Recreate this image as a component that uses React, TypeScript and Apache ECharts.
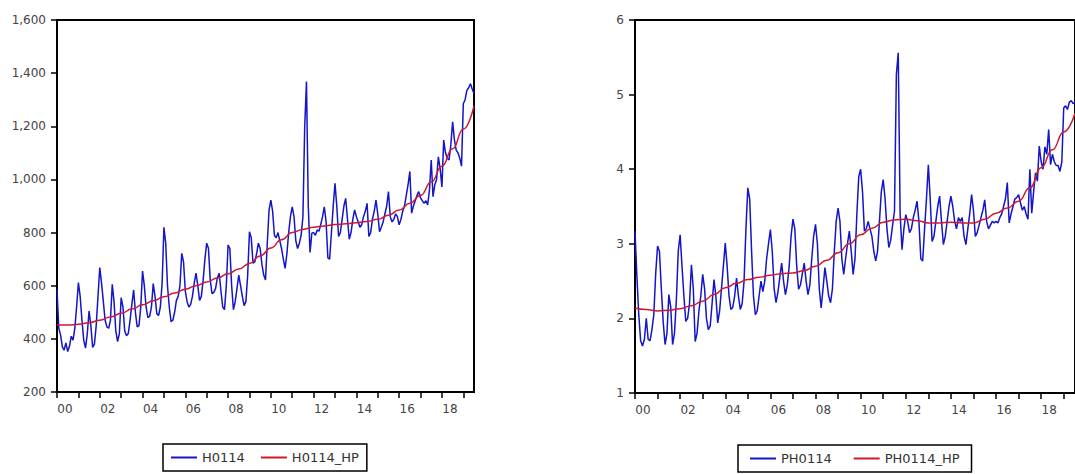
import React, { useEffect, useRef } from "react";
import * as echarts from "echarts";

// ---- categories: monthly observations 2000M01 .. 2019M07 ----
const FIRST_YEAR = 2000;
const N_OBS = 235;
const MONTHS: string[] = [];
for (let y = FIRST_YEAR; MONTHS.length < N_OBS; y++) {
  for (let m = 1; m <= 12 && MONTHS.length < N_OBS; m++) {
    MONTHS.push(`${y}M${String(m).padStart(2, "0")}`);
  }
}

// ---- H0114 (left panel), read month by month ----
const H_2000 = [585, 440, 415, 370, 358, 385, 352, 372, 410, 395, 440, 520];
const H_2001 = [612, 560, 470, 395, 365, 420, 505, 450, 368, 380, 450, 560];
const H_2002 = [668, 610, 540, 470, 445, 440, 470, 605, 540, 430, 390, 420];
const H_2003 = [555, 520, 430, 412, 420, 470, 530, 584, 500, 445, 450, 520];
const H_2004 = [655, 600, 520, 480, 485, 520, 608, 560, 495, 488, 520, 610];
const H_2005 = [820, 760, 600, 520, 465, 470, 500, 545, 560, 600, 722, 690];
const H_2006 = [580, 540, 520, 530, 560, 610, 647, 600, 545, 560, 620, 700];
const H_2007 = [760, 740, 620, 570, 575, 590, 630, 647, 580, 520, 510, 600];
const H_2008 = [753, 740, 600, 510, 540, 590, 640, 600, 560, 525, 540, 640];
const H_2009 = [803, 780, 685, 690, 720, 760, 740, 680, 640, 622, 760, 885];
const H_2010 = [922, 880, 790, 780, 800, 770, 740, 700, 665, 720, 800, 860];
const H_2011 = [897, 860, 770, 740, 760, 790, 860, 1198, 1368, 900, 725, 798];
const H_2012 = [800, 790, 810, 805, 830, 860, 897, 840, 705, 700, 800, 900];
const H_2013 = [985, 900, 785, 800, 850, 900, 929, 850, 775, 800, 850, 885];
const H_2014 = [860, 841, 820, 830, 860, 880, 910, 785, 800, 850, 880, 922];
const H_2015 = [870, 803, 820, 840, 870, 900, 954, 860, 840, 850, 870, 860];
const H_2016 = [829, 850, 880, 900, 940, 980, 1030, 873, 900, 920, 940, 954];
const H_2017 = [930, 920, 910, 920, 904, 960, 1073, 935, 980, 1000, 1085, 1040];
const H_2018 = [972, 1148, 1100, 1080, 1073, 1130, 1217, 1150, 1110, 1100, 1080, 1050];
const H_2019 = [1285, 1300, 1335, 1345, 1360, 1340, 1323];

// ---- H0114_HP (left panel), read every six months (last = final obs) ----
const H_HP = [
  452, 452, 455, 461, 470, 482, 496, 512, 528, 543, 558, 573, 587, 600, 614, 629,
  645, 663, 684, 712, 742, 773, 800, 812, 820, 825, 830, 833, 837, 842, 850, 865,
  885, 910, 940, 990, 1050, 1115, 1190, 1277,
];

// ---- PH0114 (right panel), read month by month ----
const P_2000 = [3.17, 2.57, 2.05, 1.7, 1.63, 1.72, 2.0, 1.72, 1.7, 1.85, 2.05, 2.6];
const P_2001 = [2.97, 2.9, 2.4, 1.95, 1.65, 1.8, 2.32, 2.15, 1.65, 1.8, 2.25, 2.9];
const P_2002 = [3.12, 2.7, 2.3, 1.96, 2.0, 2.2, 2.72, 2.4, 1.69, 1.8, 2.1, 2.3];
const P_2003 = [2.59, 2.4, 2.0, 1.85, 1.9, 2.2, 2.52, 2.3, 1.94, 2.1, 2.4, 2.7];
const P_2004 = [3.01, 2.7, 2.3, 2.12, 2.15, 2.3, 2.54, 2.3, 2.12, 2.2, 2.5, 3.2];
const P_2005 = [3.75, 3.6, 2.9, 2.3, 2.05, 2.1, 2.3, 2.5, 2.36, 2.5, 2.8, 3.0];
const P_2006 = [3.19, 2.9, 2.4, 2.21, 2.35, 2.55, 2.74, 2.5, 2.32, 2.45, 2.7, 3.1];
const P_2007 = [3.33, 3.2, 2.7, 2.39, 2.45, 2.6, 2.74, 2.5, 2.32, 2.45, 2.8, 3.1];
const P_2008 = [3.26, 3.0, 2.4, 2.14, 2.4, 2.68, 2.5, 2.3, 2.21, 2.4, 2.9, 3.3];
const P_2009 = [3.48, 3.3, 2.8, 2.59, 2.8, 3.0, 3.17, 2.9, 2.59, 2.8, 3.4, 3.9];
const P_2010 = [4.0, 3.7, 3.17, 3.2, 3.3, 3.2, 3.1, 2.9, 2.77, 2.9, 3.3, 3.7];
const P_2011 = [3.86, 3.6, 3.2, 2.95, 3.05, 3.25, 3.44, 5.27, 5.56, 3.4, 2.92, 3.2];
const P_2012 = [3.39, 3.3, 3.15, 3.2, 3.35, 3.45, 3.57, 3.3, 2.8, 2.77, 3.2, 3.6];
const P_2013 = [4.06, 3.6, 3.03, 3.1, 3.3, 3.5, 3.64, 3.3, 2.99, 3.1, 3.3, 3.5];
const P_2014 = [3.64, 3.5, 3.3, 3.2, 3.35, 3.3, 3.35, 3.1, 2.99, 3.2, 3.4, 3.66];
const P_2015 = [3.45, 3.1, 3.15, 3.25, 3.35, 3.45, 3.59, 3.3, 3.2, 3.25, 3.3, 3.28];
const P_2016 = [3.3, 3.28, 3.35, 3.4, 3.5, 3.6, 3.82, 3.28, 3.4, 3.5, 3.6, 3.62];
const P_2017 = [3.66, 3.55, 3.45, 3.5, 3.4, 3.33, 4.0, 3.41, 3.7, 3.95, 3.84, 4.31];
const P_2018 = [4.1, 4.0, 4.3, 4.2, 4.53, 4.06, 4.2, 4.1, 4.05, 4.05, 3.97, 4.1];
const P_2019 = [4.82, 4.85, 4.8, 4.9, 4.92, 4.88, 4.9];

// ---- PH0114_HP (right panel), read every six months (last = final obs) ----
const P_HP = [
  2.14, 2.12, 2.1, 2.11, 2.13, 2.17, 2.23, 2.32, 2.41, 2.47, 2.52, 2.55, 2.58, 2.6,
  2.61, 2.64, 2.7, 2.78, 2.88, 3.0, 3.12, 3.21, 3.29, 3.32, 3.33, 3.31, 3.28, 3.28,
  3.29, 3.28, 3.28, 3.33, 3.41, 3.48, 3.57, 3.75, 4.02, 4.26, 4.5, 4.75,
];

// ---- axis ticks ----
const LEFT_Y = { min: 200, max: 1600, interval: 200 };
const RIGHT_Y = { min: 1, max: 6, interval: 1 };

const H0114 = [
  ...H_2000, ...H_2001, ...H_2002, ...H_2003, ...H_2004, ...H_2005, ...H_2006,
  ...H_2007, ...H_2008, ...H_2009, ...H_2010, ...H_2011, ...H_2012, ...H_2013,
  ...H_2014, ...H_2015, ...H_2016, ...H_2017, ...H_2018, ...H_2019,
];
const PH0114 = [
  ...P_2000, ...P_2001, ...P_2002, ...P_2003, ...P_2004, ...P_2005, ...P_2006,
  ...P_2007, ...P_2008, ...P_2009, ...P_2010, ...P_2011, ...P_2012, ...P_2013,
  ...P_2014, ...P_2015, ...P_2016, ...P_2017, ...P_2018, ...P_2019,
];

const hpPoints = (vals: number[]) =>
  vals.map((v, k) => [MONTHS[Math.min(k * 6, N_OBS - 1)], v]);

const FONT = "DejaVu Sans";
const BLUE = "#1414c8";
const RED = "#cf1a2c";
const AXIS_LINE = { show: true, lineStyle: { color: "#000", width: 2 } };

const xAxis = (gridIndex: number) => ({
  type: "category",
  gridIndex,
  data: MONTHS,
  boundaryGap: false,
  axisLine: AXIS_LINE,
  axisTick: {
    show: true,
    interval: (i: number) => i % 12 === 0,
    length: 6,
    inside: false,
    lineStyle: { color: "#000", width: 1.5 },
  },
  axisLabel: {
    interval: (i: number) => i % 24 === 0,
    formatter: (v: string) => v.slice(2, 4),
    color: "#444",
    fontSize: 12,
    fontFamily: FONT,
    margin: 11,
    padding: [0, 0, 0, 16],
  },
  splitLine: { show: false },
});

const yAxis = (gridIndex: number, cfg: { min: number; max: number; interval: number }, fmt: (v: number) => string) => ({
  type: "value",
  gridIndex,
  ...cfg,
  axisLine: AXIS_LINE,
  axisTick: { show: true, length: 6, inside: false, lineStyle: { color: "#000", width: 1.5 } },
  axisLabel: { formatter: fmt, color: "#444", fontSize: 12, fontFamily: FONT, margin: 11 },
  splitLine: { show: false },
});

const legend = (names: string[], left: number, top: number, padH: number, gap: number) => ({
  data: names,
  left,
  top,
  orient: "horizontal",
  icon: "rect",
  itemWidth: 26,
  itemHeight: 2,
  itemGap: gap,
  padding: [7, padH],
  borderColor: "#000",
  borderWidth: 1.5,
  textStyle: { color: "#333", fontSize: 13, fontFamily: FONT },
});

export default function App() {
  const ref = useRef<HTMLDivElement>(null);
  useEffect(() => {
    if (!ref.current) return;
    const chart = echarts.init(ref.current, null, { renderer: "svg" });
    const option: any = {
      animation: false,
      backgroundColor: "#fff",
      grid: [
        { left: 57, top: 20, width: 417, height: 372, show: true, borderColor: "#000", borderWidth: 2, backgroundColor: "transparent" },
        { left: 635, top: 20, width: 442, height: 373, show: true, borderColor: "#000", borderWidth: 2, backgroundColor: "transparent" },
      ],
      xAxis: [xAxis(0), xAxis(1)],
      yAxis: [
        yAxis(0, LEFT_Y, (v: number) => v.toLocaleString("en-US")),
        yAxis(1, RIGHT_Y, (v: number) => String(v)),
      ],
      legend: [
        legend(["H0114", "H0114_HP"], 163, 444, 8, 16),
        legend(["PH0114", "PH0114_HP"], 738, 445, 12, 22),
      ],
      series: [
        {
          type: "line", name: "H0114", xAxisIndex: 0, yAxisIndex: 0, data: H0114,
          showSymbol: false, lineStyle: { color: BLUE, width: 1.5 }, itemStyle: { color: BLUE }, z: 2,
        },
        {
          type: "line", name: "H0114_HP", xAxisIndex: 0, yAxisIndex: 0, data: hpPoints(H_HP),
          showSymbol: false, smooth: 0.5, smoothMonotone: "x",
          lineStyle: { color: RED, width: 1.5 }, itemStyle: { color: RED }, z: 3,
        },
        {
          type: "line", name: "PH0114", xAxisIndex: 1, yAxisIndex: 1, data: PH0114,
          showSymbol: false, lineStyle: { color: BLUE, width: 1.5 }, itemStyle: { color: BLUE }, z: 2,
        },
        {
          type: "line", name: "PH0114_HP", xAxisIndex: 1, yAxisIndex: 1, data: hpPoints(P_HP),
          showSymbol: false, smooth: 0.5, smoothMonotone: "x",
          lineStyle: { color: RED, width: 1.5 }, itemStyle: { color: RED }, z: 3,
        },
      ],
    };
    chart.setOption(option);
    return () => chart.dispose();
  }, []);
  return (
    <div
      ref={ref}
      style={{ position: "absolute", left: 0, top: 0, width: 1075, height: 474, background: "#fff" }}
    />
  );
}
